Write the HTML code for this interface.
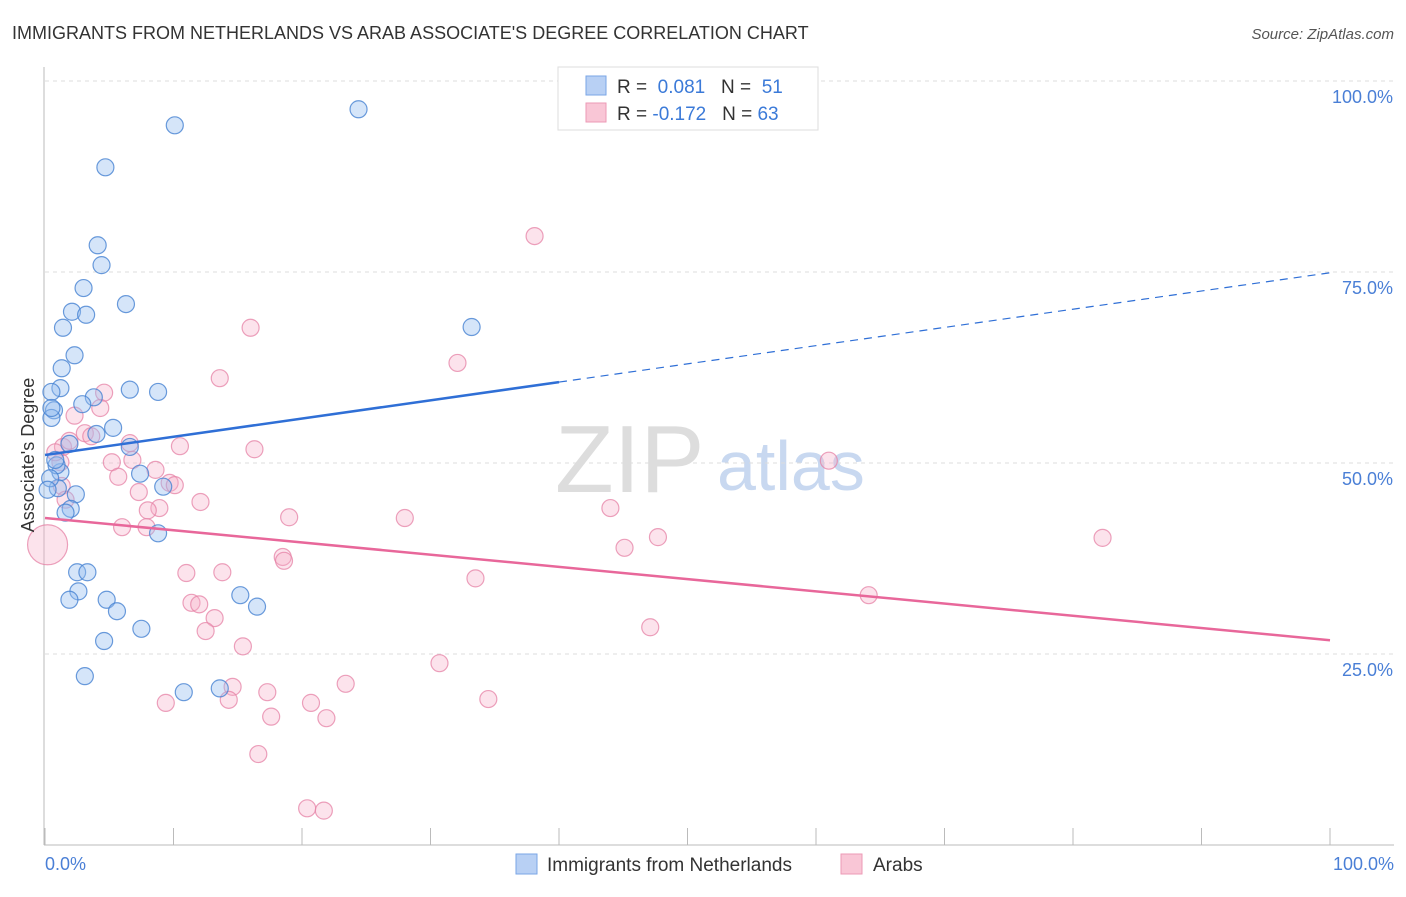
<!DOCTYPE html>
<html><head><meta charset="utf-8"><style>
body{margin:0;background:#fff;font-family:"Liberation Sans",sans-serif;}
svg text{font-family:"Liberation Sans",sans-serif;}
</style></head><body>
<svg width="1406" height="892" viewBox="0 0 1406 892" xmlns="http://www.w3.org/2000/svg">
<text x="12" y="39" font-size="18" fill="#333">IMMIGRANTS FROM NETHERLANDS VS ARAB ASSOCIATE'S DEGREE CORRELATION CHART</text>
<text x="1394" y="39" font-size="15" fill="#555" font-style="italic" text-anchor="end">Source: ZipAtlas.com</text>
<g>
<text x="555" y="492" font-size="96" fill="#ddd" font-family="Liberation Serif">ZIP</text>
<text x="717" y="490" font-size="70" fill="#c8d8f0">atlas</text>
</g>
<g id="grid"></g>
<g id="axes"></g>
<g id="marks"></g>
<text transform="translate(34,455) rotate(-90)" font-size="18" fill="#333" text-anchor="middle">Associate's Degree</text>
<text x="45" y="870" font-size="18" fill="#4a7fd6">0.0%</text>
<text x="1394" y="870" font-size="18" fill="#4a7fd6" text-anchor="end">100.0%</text>
<g>
<rect x="558" y="67" width="260" height="63" fill="#fff" stroke="#ddd"/>
<rect x="586" y="76" width="20" height="19" fill="#b8d0f4" stroke="#7aa6e6"/>
<rect x="586" y="103" width="20" height="19" fill="#f9c6d6" stroke="#ec9ab6"/>
<text x="617" y="93" font-size="19" fill="#333">R = <tspan fill="#3b7ad8">&#160;0.081</tspan>&#160;&#160;&#160;N = <tspan fill="#3b7ad8">&#160;51</tspan></text>
<text x="617" y="120" font-size="19" fill="#333">R = <tspan fill="#3b7ad8">-0.172</tspan>&#160;&#160;&#160;N = <tspan fill="#3b7ad8">63</tspan></text>
</g>
<g>
<rect x="516" y="854" width="21" height="20" fill="#b8d0f4" stroke="#7aa6e6"/>
<text x="547" y="871" font-size="19" fill="#333">Immigrants from Netherlands</text>
<rect x="841" y="854" width="21" height="20" fill="#f9c6d6" stroke="#ec9ab6"/>
<text x="873" y="871" font-size="19" fill="#333">Arabs</text>
</g>
</svg>
<script>
const yTicks=[25,50,75,100];
const yTickLabels=["25.0%","50.0%","75.0%","100.0%"];
const blueX=[10.1,24.4,4.7,4.1,4.4,3.0,2.1,3.2,6.3,1.4,2.3,1.3,1.2,0.5,6.6,8.8,3.8,2.9,0.7,0.5,5.3,4.0,1.9,6.6,7.4,1.2,0.9,9.2,1.0,2.4,2.0,1.6,8.8,2.5,3.3,2.6,1.9,4.8,5.6,15.2,16.5,7.5,4.6,3.1,10.8,13.6,33.2,0.8,0.4,0.2,0.5];
const blueY=[94.2,96.3,88.7,78.5,75.9,72.9,69.8,69.4,70.8,67.7,64.1,62.4,59.8,59.3,59.6,59.3,58.6,57.7,56.9,55.9,54.6,53.8,52.5,52.1,48.6,48.8,49.7,46.9,46.7,45.9,44.0,43.5,40.8,35.7,35.7,33.2,32.1,32.1,30.6,32.7,31.2,28.3,26.7,22.1,20.0,20.5,67.8,50.4,48.0,46.5,57.2];
const pinkX=[38.1,16.0,32.1,13.6,4.6,4.3,2.3,6.6,10.5,16.3,1.4,1.9,3.1,3.6,5.2,6.8,8.6,9.7,10.1,5.7,7.3,12.1,8.9,8.0,19.0,28.0,6.0,7.9,44.0,47.7,45.1,61.0,82.3,18.5,18.6,11.0,13.8,33.5,11.4,12.0,13.2,12.5,64.1,47.1,15.4,30.7,23.4,14.6,17.3,14.3,9.4,20.7,34.5,17.6,21.9,16.6,20.4,21.7,1.2,1.3,0.2,0.8,1.6];
const pinkY=[79.7,67.7,63.1,61.1,59.2,57.2,56.2,52.6,52.2,51.8,52.1,52.9,53.9,53.5,50.1,50.4,49.1,47.4,47.1,48.2,46.2,44.9,44.1,43.8,42.9,42.8,41.6,41.6,44.1,40.3,38.9,50.3,40.2,37.7,37.2,35.6,35.7,34.9,31.7,31.5,29.7,28.0,32.7,28.5,26.0,23.8,21.1,20.7,20.0,19.0,18.6,18.6,19.1,16.8,16.6,11.9,4.8,4.5,50.1,47.0,39.3,51.4,45.2];
const blueTrend=[51.05,74.9];
const pinkTrend=[42.8,26.8];
const NS="http://www.w3.org/2000/svg";
const X0=45,X1=1330,Y0=845,Y100=81;
const sx=v=>X0+(X1-X0)*v/100;
const sy=v=>Y0-(Y0-Y100)*v/100;
function mk(tag,attrs,parent){const e=document.createElementNS(NS,tag);for(const k in attrs)e.setAttribute(k,attrs[k]);parent.appendChild(e);return e;}
const grid=document.getElementById('grid'),axes=document.getElementById('axes'),marks=document.getElementById('marks');
yTicks.forEach((t,i)=>{
 const l=mk('line',{x1:45,x2:1394,y1:sy(t),y2:sy(t),stroke:'#ddd','stroke-dasharray':'4,4'},grid);
 
 
 const tx=mk('text',{x:1393,y:sy(t)+22,'font-size':18,fill:'#4a7fd6','text-anchor':'end'},axes);
 tx.textContent=yTickLabels[i];
 
 
});
const ax=mk('line',{x1:44,x2:44,y1:67,y2:845,stroke:'#bbb'},axes);


const bx=mk('line',{x1:44,x2:1394,y1:845,y2:845,stroke:'#bbb'},axes);


for(let i=0;i<=10;i++){
 const t=mk('line',{x1:sx(i*10),x2:sx(i*10),y1:828,y2:845,stroke:'#bbb'},axes);
 
 
}
function dot(x,y,r,fill,stroke,name){
 const c=mk('circle',{cx:sx(x),cy:sy(y),r:r,fill:fill,stroke:stroke,'stroke-width':1.2},marks);
 
 
}
pinkX.forEach((x,i)=>dot(x,pinkY[i],i===60?20:8.5,'rgba(246,176,200,0.35)','rgba(230,130,165,0.75)','point-arabs'));
blueX.forEach((x,i)=>dot(x,blueY[i],8.5,'rgba(150,190,240,0.4)','rgba(70,130,210,0.8)','point-netherlands'));
const bsplit=40;
const bl=mk('line',{x1:sx(0),y1:sy(blueTrend[0]),x2:sx(bsplit),y2:sy(blueTrend[0]+(blueTrend[1]-blueTrend[0])*bsplit/100),stroke:'#2f6fd6','stroke-width':2.5},marks);


const bd=mk('line',{x1:sx(bsplit),y1:sy(blueTrend[0]+(blueTrend[1]-blueTrend[0])*bsplit/100),x2:sx(100),y2:sy(blueTrend[1]),stroke:'#2f6fd6','stroke-width':1.2,'stroke-dasharray':'8,6'},marks);


const pl=mk('line',{x1:sx(0),y1:sy(pinkTrend[0]),x2:sx(100),y2:sy(pinkTrend[1]),stroke:'#e8679a','stroke-width':2.5},marks);


</script>
</body></html>
